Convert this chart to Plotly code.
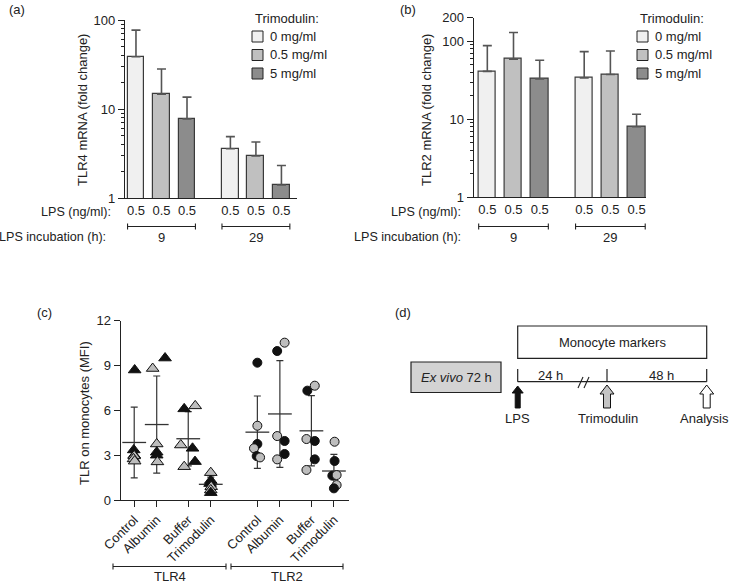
import plotly.graph_objects as go

W, H = 732, 584
FONT = "Liberation Sans, Arial, Helvetica, sans-serif"
INK = "#222222"
FS = 13

# ---------------- data: panels (a) and (b) ----------------
dose_labels = ["0 mg/ml", "0.5 mg/ml", "5 mg/ml"]
dose_colors = ["#f0f0f0", "#c0c0c0", "#8c8c8c"]
incubation_h = ["9", "29"]
lps_ng_ml = "0.5"

tlr4_mrna_0mg = [38.6, 3.58]
tlr4_mrna_05mg = [14.7, 2.96]
tlr4_mrna_5mg = [7.75, 1.40]
tlr4_sd_0mg = [38.4, 1.31]
tlr4_sd_05mg = [13.5, 1.30]
tlr4_sd_5mg = [5.85, 0.92]

tlr2_mrna_0mg = [41.0, 33.9]
tlr2_mrna_05mg = [59.0, 37.5]
tlr2_mrna_5mg = [32.9, 8.0]
tlr2_sd_0mg = [46.7, 39.6]
tlr2_sd_05mg = [70.0, 37.5]
tlr2_sd_5mg = [24.0, 3.6]

a_ticks = [1, 10, 100]
b_ticks = [1, 10, 100, 200]

# ---------------- data: panel (c) ----------------
treatments = ["Control", "Albumin", "Buffer", "Trimodulin"]
receptors = ["TLR4", "TLR2"]
c_ticks = [0, 3, 6, 9, 12]

tlr4_control = [8.7, 3.35, 3.0, 2.95, 2.75, 2.6]
tlr4_control_donor = ["k", "k", "k", "g", "g", "g"]
tlr4_albumin = [9.5, 8.8, 3.75, 3.2, 3.0, 2.55]
tlr4_albumin_donor = ["k", "g", "g", "k", "k", "g"]
tlr4_buffer = [6.1, 6.3, 3.68, 3.46, 2.57, 2.23]
tlr4_buffer_donor = ["k", "g", "g", "k", "k", "g"]
tlr4_trimodulin = [1.83, 1.3, 1.1, 0.89, 0.67, 0.49]
tlr4_trimodulin_donor = ["g", "k", "k", "g", "g", "k"]

tlr2_control = [9.19, 4.97, 3.75, 3.46, 2.94, 2.85]
tlr2_control_donor = ["k", "g", "k", "g", "k", "g"]
tlr2_albumin = [9.97, 10.53, 4.28, 3.95, 3.08, 2.72]
tlr2_albumin_donor = ["k", "g", "g", "k", "k", "g"]
tlr2_buffer = [7.32, 7.65, 4.08, 3.95, 2.72, 2.01]
tlr2_buffer_donor = ["k", "g", "g", "k", "k", "g"]
tlr2_trimodulin = [3.9, 2.61, 1.63, 1.67, 1.0, 0.78]
tlr2_trimodulin_donor = ["g", "k", "k", "g", "g", "k"]

tlr4_mean = [3.85, 5.05, 4.1, 1.05]
tlr4_sd = [2.37, 3.25, 1.82, 0.48]
tlr2_mean = [4.54, 5.76, 4.63, 1.94]
tlr2_sd = [2.42, 3.57, 2.35, 1.12]

# horizontal spread of the dots inside a column (layout only)
jit_tlr4 = [[0.02, -0.02, 0.0, 0.0, -0.03, 0.02],
            [0.37, -0.18, 0.0, 0.0, 0.0, 0.03],
            [-0.18, 0.31, -0.33, 0.19, 0.3, -0.18],
            [0.0, 0.0, -0.03, 0.02, 0.0, 0.0]]
jit_tlr2 = [[0.0, 0.0, 0.0, -0.15, -0.03, 0.12],
            [-0.12, 0.21, -0.12, 0.21, 0.21, -0.12],
            [-0.18, 0.15, -0.22, 0.15, 0.15, -0.22],
            [0.03, 0.03, -0.07, 0.12, 0.12, 0.0]]

donor_color = {"k": "#111111", "g": "#bdbdbd"}


def px(x):
    return x / W


def py(y):
    return 1 - y / H


fig = go.Figure()

# ---------------- panels (a) and (b): bars ----------------
GROUP_GAP = 3.7
BAR_W = 0.66


def bar_x(dose_idx):
    return [g * GROUP_GAP + dose_idx for g in range(len(incubation_h))]


panel_ab = [
    ("x", "y", [tlr4_mrna_0mg, tlr4_mrna_05mg, tlr4_mrna_5mg],
     [tlr4_sd_0mg, tlr4_sd_05mg, tlr4_sd_5mg]),
    ("x2", "y2", [tlr2_mrna_0mg, tlr2_mrna_05mg, tlr2_mrna_5mg],
     [tlr2_sd_0mg, tlr2_sd_05mg, tlr2_sd_5mg]),
]
for xa, ya, vals, sds in panel_ab:
    for d in range(3):
        fig.add_trace(go.Bar(
            x=bar_x(d), y=vals[d], width=BAR_W, xaxis=xa, yaxis=ya,
            marker=dict(color=dose_colors[d], line=dict(color="#3a3a3a", width=1.2)),
            error_y=dict(type="data", symmetric=False, array=sds[d],
                         arrayminus=[0] * len(sds[d]), color="#555555",
                         thickness=1.6, width=4.5),
            showlegend=False, name=dose_labels[d],
        ))

# ---------------- panel (c): scatter ----------------
slot = [0, 1, 2.4, 3.4]
REC_OFF = [0, 5.47]
c_groups = [
    [(tlr4_control, tlr4_control_donor), (tlr4_albumin, tlr4_albumin_donor),
     (tlr4_buffer, tlr4_buffer_donor), (tlr4_trimodulin, tlr4_trimodulin_donor)],
    [(tlr2_control, tlr2_control_donor), (tlr2_albumin, tlr2_albumin_donor),
     (tlr2_buffer, tlr2_buffer_donor), (tlr2_trimodulin, tlr2_trimodulin_donor)],
]
c_means = [tlr4_mean, tlr2_mean]
c_sds = [tlr4_sd, tlr2_sd]
c_jit = [jit_tlr4, jit_tlr2]
c_symbol = ["triangle-up", "circle"]
c_size = [11, 9]

for r in range(2):
    xs = [REC_OFF[r] + s for s in slot]
    fig.add_trace(go.Scatter(
        x=xs, y=c_means[r], mode="markers", xaxis="x3", yaxis="y3",
        marker=dict(symbol="line-ew", size=17, color=INK,
                    line=dict(color="#333333", width=1.3)),
        error_y=dict(type="data", array=c_sds[r], color="#333333",
                     thickness=1.2, width=3.5),
        showlegend=False, cliponaxis=False,
    ))
    for t in range(4):
        vals, donors = c_groups[r][t]
        fig.add_trace(go.Scatter(
            x=[xs[t] + j for j in c_jit[r][t]], y=vals, mode="markers",
            xaxis="x3", yaxis="y3",
            marker=dict(symbol=c_symbol[r], size=c_size[r],
                        color=[donor_color[d] for d in donors],
                        line=dict(color="#111111", width=1)),
            showlegend=False, cliponaxis=False,
        ))

# ---------------- axes ----------------
axis_common = dict(showline=True, linecolor=INK, linewidth=1.3, showgrid=False,
                   zeroline=False, tickcolor=INK, tickwidth=1.3, automargin=False,
                   tickfont=dict(size=FS, color=INK, family=FONT))

tick_ab = [g * GROUP_GAP + d for g in range(2) for d in range(3)]


def minor_log(top):
    return [m * 10 ** e for e in range(0, 3) for m in range(2, 10) if m * 10 ** e < top]


fig.update_layout(
    xaxis=dict(domain=[px(125), px(297)], range=[-0.43, 6.31], anchor="y",
               tickvals=tick_ab, ticktext=[lps_ng_ml] * 6, ticks="", **axis_common),
    yaxis=dict(domain=[py(198), py(20)], type="log", range=[0, 2], anchor="x",
               tickvals=a_ticks, ticktext=[str(v) for v in a_ticks], ticks="outside",
               ticklen=6,
               minor=dict(tickmode="array", tickvals=minor_log(100), ticks="outside",
                          ticklen=3, tickcolor=INK, tickwidth=1),
               **axis_common),
    xaxis2=dict(domain=[px(473.7), px(646)], range=[-0.52, 6.06], anchor="y2",
                tickvals=tick_ab, ticktext=[lps_ng_ml] * 6, ticks="", **axis_common),
    yaxis2=dict(domain=[py(197.3), py(17.7)], type="log", range=[0, 2.30103],
                anchor="x2", tickvals=b_ticks, ticktext=[str(v) for v in b_ticks],
                ticks="outside", ticklen=6,
                minor=dict(tickmode="array", tickvals=minor_log(200), ticks="outside",
                           ticklen=3, tickcolor=INK, tickwidth=1),
                **axis_common),
    xaxis3=dict(domain=[px(120.7), px(349)], range=[-0.6, 9.54], anchor="y3",
                tickvals=[REC_OFF[r] + s for r in range(2) for s in slot],
                ticktext=treatments * 2, tickangle=-45, ticks="outside", ticklen=6,
                **axis_common),
    yaxis3=dict(domain=[py(500), py(320.7)], range=[0, 12], anchor="x3",
                tickvals=c_ticks, ticks="outside", ticklen=6, **axis_common),
)

# ---------------- annotations & shapes ----------------
ann = []
shapes = []


def text(x, y, s, size=FS, xanchor="center", angle=0):
    ann.append(dict(x=px(x), y=py(y), xref="paper", yref="paper", text=s,
                    showarrow=False, xanchor=xanchor, yanchor="middle",
                    textangle=angle, font=dict(size=size, color=INK, family=FONT)))


def line(x0, y0, x1, y1, w=1.2, color=INK):
    shapes.append(dict(type="line", xref="paper", yref="paper", x0=px(x0), y0=py(y0),
                       x1=px(x1), y1=py(y1), line=dict(color=color, width=w)))


def rect(x0, y0, x1, y1, fill, w=1.2):
    shapes.append(dict(type="rect", xref="paper", yref="paper", x0=px(x0), y0=py(y0),
                       x1=px(x1), y1=py(y1), fillcolor=fill,
                       line=dict(color=INK, width=w)))


# panel labels
text(17, 9, "(a)")
text(408, 9, "(b)")
text(44, 312, "(c)")
text(403, 312, "(d)")

# y titles
text(83, 110, "TLR4 mRNA (fold change)", angle=-90)
text(427, 110, "TLR2 mRNA (fold change)", angle=-90)
text(84, 413, "TLR on monocytes (MFI)", angle=-90)

# row labels under (a)/(b)
text(113, 212, "LPS (ng/ml):", size=12.6, xanchor="right")
text(108, 237, "LPS incubation (h):", size=12.6, xanchor="right")
text(463, 212, "LPS (ng/ml):", size=12.6, xanchor="right")
text(463, 237, "LPS incubation (h):", size=12.6, xanchor="right")

# incubation brackets (in data x of each panel)
for xa, x_lo, x_hi, p_lo, p_hi in [("x", -0.43, 6.31, 125, 297), ("x2", -0.52, 6.06, 473.7, 646)]:
    scale = (p_hi - p_lo) / (x_hi - x_lo)
    for g in range(2):
        a0 = p_lo + (g * GROUP_GAP - BAR_W / 2 - x_lo) * scale
        a1 = p_lo + (g * GROUP_GAP + 2 + BAR_W / 2 - x_lo) * scale
        line(a0, 226.5, a1, 226.5, w=1.1)
        line(a0, 223.5, a0, 229.5, w=1.1)
        line(a1, 223.5, a1, 229.5, w=1.1)
        text((a0 + a1) / 2, 238, incubation_h[g])

# legends for (a) and (b)
for lx in [252, 637]:
    text(lx + 1, 18, "Trimodulin:", xanchor="left")
    for d in range(3):
        yy = 36.5 + d * 18.5
        rect(lx, yy - 5.5, lx + 11, yy + 5.5, dose_colors[d], w=1)
        text(lx + 16, yy, dose_labels[d], xanchor="left")

# brackets under (c)
for a0, a1, lab in [(113, 226, receptors[0]), (231, 343, receptors[1])]:
    line(a0, 566.5, a1, 566.5, w=1.1)
    line(a0, 563.5, a0, 569.5, w=1.1)
    line(a1, 563.5, a1, 569.5, w=1.1)
    text((a0 + a1) / 2, 576.5, lab)

# ---------------- panel (d): schematic ----------------
rect(517.7, 326, 706.7, 358.3, "white")
text(612, 342, "Monocyte markers")
rect(411, 362, 501, 392.5, "#d3d3d3")
text(456, 377, "<i>Ex vivo</i> 72 h")

line(517.7, 381.7, 706.7, 381.7, w=1.2)
for xv in [517.7, 607, 706.7]:
    line(xv, 369, xv, 381.7, w=1.2)
line(578, 388, 583, 377, w=1.1)
line(584, 388, 589, 377, w=1.1)
text(550, 375, "24 h")
text(661, 375, "48 h")


def arrow(cx, tip, base, hw, hh, sw, fill):
    pts = [(cx, tip), (cx + hw / 2, tip + hh), (cx + sw / 2, tip + hh), (cx + sw / 2, base),
           (cx - sw / 2, base), (cx - sw / 2, tip + hh), (cx - hw / 2, tip + hh)]
    path = "M " + " L ".join(f"{px(a):.5f},{py(b):.5f}" for a, b in pts) + " Z"
    shapes.append(dict(type="path", xref="paper", yref="paper", path=path,
                       fillcolor=fill, line=dict(color="#111111", width=1)))


arrow(517.7, 386, 408, 11, 7, 5, "#111111")
arrow(607, 385, 408, 14, 9, 7, "#c4c4c4")
arrow(706.7, 385, 408, 14, 9, 7, "white")
text(517, 418, "LPS")
text(607.5, 418, "Trimodulin")
text(704, 418, "Analysis")

fig.update_layout(
    width=W, height=H, margin=dict(l=0, r=0, t=0, b=0),
    paper_bgcolor="white", plot_bgcolor="white",
    font=dict(family=FONT, size=FS, color=INK),
    annotations=ann, shapes=shapes, showlegend=False, bargap=0,
)

fig.write_html("out.html", config={"displayModeBar": False},
               post_script="document.body.style.margin='0px';"
                           "document.body.style.overflow='hidden';")
